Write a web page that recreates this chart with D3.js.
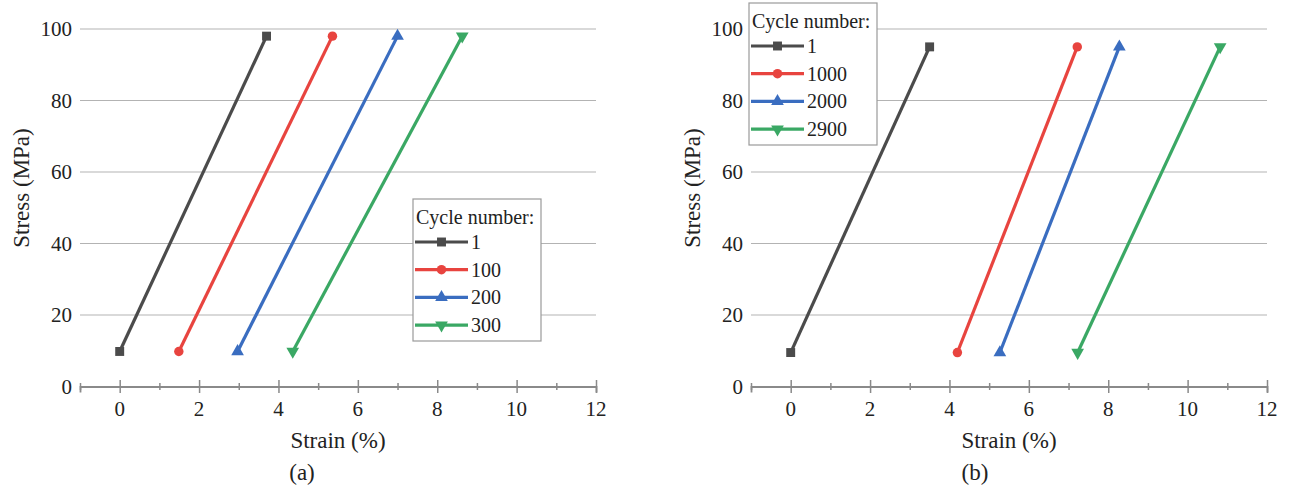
<!DOCTYPE html>
<html>
<head>
<meta charset="utf-8">
<script src="https://cdn.jsdelivr.net/npm/d3@7"></script>
<style>
  html, body { margin: 0; padding: 0; background: #fff; }
  svg { display: block; }
  svg text { font-family: "Liberation Serif"; }
</style>
</head>
<body>
<svg id="chart" width="1289" height="489"></svg>
<script>
// ---- data ----
const strainTicks = [0, 2, 4, 6, 8, 10, 12];
const stressTicks = [0, 20, 40, 60, 80, 100];
const legendTitle = "Cycle number:";

const cyclesA = ["1", "100", "200", "300"];
const strainA = [[0, 3.7], [1.49, 5.36], [2.97, 7.0], [4.36, 8.63]];
const stressA = [[9.8, 98], [9.8, 98], [9.8, 98], [9.8, 98]];

const cyclesB = ["1", "1000", "2000", "2900"];
const strainB = [[0, 3.5], [4.2, 7.22], [5.27, 8.28], [7.23, 10.82]];
const stressB = [[9.5, 95], [9.5, 95], [9.5, 95], [9.5, 95]];

const colors = ["#4b4b4b", "#e8443f", "#3a6dc0", "#3aa864"];
const shapes = [d3.symbolSquare, d3.symbolCircle, d3.symbolTriangle, d3.symbolTriangle];
const rotations = [0, 0, 0, 180];
const symSizes = [80, 70, 70, 70];

const svg = d3.select("#chart");

function txt(sel, size) {
  return sel.style("font-family", '"Liberation Serif"').style("font-size", size + "px").attr("fill", "#222");
}

function drawPanel(cfg) {
  const g = svg.append("g");
  const x = d3.scaleLinear().domain([-1, 12]).range([cfg.x0, cfg.x1]);
  const y = d3.scaleLinear().domain([0, 100]).range([386.5, 29]);

  g.selectAll(".grid").data(stressTicks.filter(d => d > 0)).enter()
    .append("line")
    .attr("x1", cfg.x0).attr("x2", cfg.x1)
    .attr("y1", d => y(d)).attr("y2", d => y(d))
    .attr("stroke", "#b3b3b3").attr("stroke-width", 1.2);

  txt(g.selectAll(".ylab").data(stressTicks).enter()
    .append("text")
    .attr("x", cfg.x0 - 8).attr("y", d => y(d) + 7)
    .attr("text-anchor", "end")
    .text(d => d), 21);

  const axis = d3.axisBottom(x).tickValues(d3.range(-1, 13)).tickSize(6).tickFormat("");
  const ax = g.append("g").attr("transform", `translate(0,${y(0)})`).call(axis);
  ax.select(".domain").attr("stroke", "#8a8a8a").attr("stroke-width", 1.8);
  ax.selectAll(".tick line")
    .attr("stroke", "#8a8a8a").attr("stroke-width", 1.5)
    .attr("y1", d => (d % 2 === 0 ? -6.5 : -3.5))
    .attr("y2", d => (d % 2 === 0 ? 6.5 : 3.5));

  txt(g.selectAll(".xlab").data(strainTicks).enter()
    .append("text")
    .attr("x", d => x(d)).attr("y", 416)
    .attr("text-anchor", "middle")
    .text(d => d), 21);

  txt(g.append("text")
    .attr("x", (cfg.x0 + cfg.x1) / 2).attr("y", 448)
    .attr("text-anchor", "middle")
    .text("Strain (%)"), 23);
  txt(g.append("text")
    .attr("transform", `translate(${cfg.x0 - 51},188) rotate(-90)`)
    .attr("text-anchor", "middle")
    .text("Stress (MPa)"), 23);
  txt(g.append("text")
    .attr("x", cfg.labelX).attr("y", 480)
    .attr("text-anchor", "middle")
    .text(cfg.label), 23);

  cfg.strain.forEach((sx, i) => {
    const pts = sx.map((v, j) => [x(v), y(cfg.stress[i][j])]);
    g.append("path")
      .attr("d", d3.line()(pts))
      .attr("fill", "none").attr("stroke", colors[i]).attr("stroke-width", 3.2);
    g.selectAll(null).data(pts).enter()
      .append("path")
      .attr("d", d3.symbol().type(shapes[i]).size(symSizes[i]))
      .attr("transform", p => `translate(${p[0]},${p[1]}) rotate(${rotations[i]})`)
      .attr("fill", colors[i]);
  });

  const L = cfg.legend;
  const lg = g.append("g");
  lg.append("rect")
    .attr("x", L.x).attr("y", L.y).attr("width", 128).attr("height", 142)
    .attr("fill", "#fff").attr("stroke", "#9a9a9a").attr("stroke-width", 1.2);
  txt(lg.append("text")
    .attr("x", L.x + 3).attr("y", L.y + 25)
    .text(legendTitle), 20);
  cfg.names.forEach((n, i) => {
    const yy = L.y + 43 + i * 27.7;
    lg.append("line")
      .attr("x1", L.x + 2).attr("x2", L.x + 55)
      .attr("y1", yy).attr("y2", yy)
      .attr("stroke", colors[i]).attr("stroke-width", 3.2);
    lg.append("path")
      .attr("d", d3.symbol().type(shapes[i]).size(symSizes[i]))
      .attr("transform", `translate(${L.x + 28.5},${yy}) rotate(${rotations[i]})`)
      .attr("fill", colors[i]);
    txt(lg.append("text")
      .attr("x", L.x + 58).attr("y", yy + 7)
      .text(n), 20);
  });
}

drawPanel({
  x0: 80, x1: 596, strain: strainA, stress: stressA, names: cyclesA,
  legend: { x: 413, y: 199 }, label: "(a)", labelX: 302
});
drawPanel({
  x0: 751, x1: 1267, strain: strainB, stress: stressB, names: cyclesB,
  legend: { x: 749, y: 3 }, label: "(b)", labelX: 975
});
</script>
</body>
</html>
